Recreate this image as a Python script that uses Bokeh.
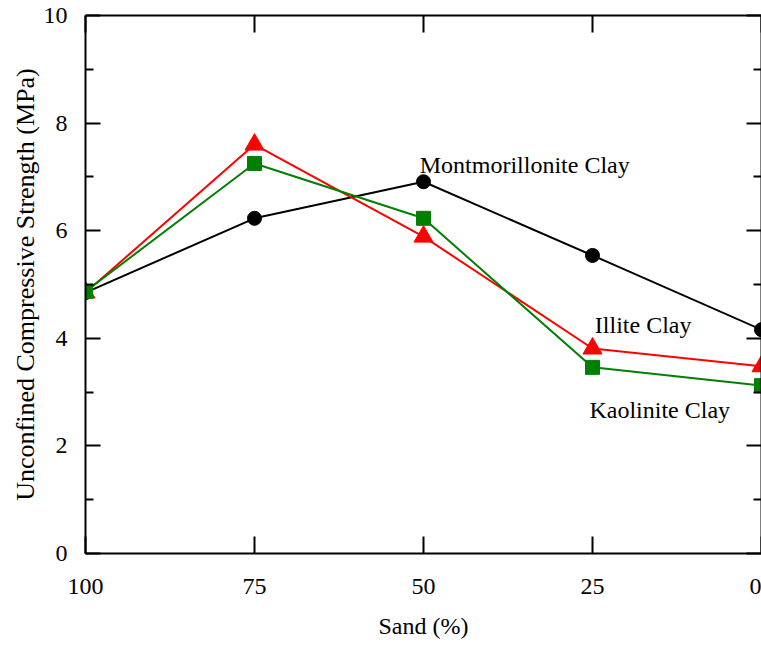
from bokeh.plotting import figure
from bokeh.models import Range1d, LinearAxis, FixedTicker, ColumnDataSource
from bokeh.core.properties import value
from bokeh.embed import file_html
from bokeh.resources import INLINE

# ---- data ----
sand = [100, 75, 50, 25, 0]
montmorillonite = [4.85, 6.23, 6.91, 5.54, 4.16]
illite = [4.85, 7.60, 5.89, 3.81, 3.48]
kaolinite = [4.87, 7.25, 6.23, 3.46, 3.12]

x_ticks = [0, 25, 50, 75, 100]
y_ticks = [0, 2, 4, 6, 8, 10]
y_minor = [1, 3, 5, 7, 9]

label_text = ["Montmorillonite Clay", "Illite Clay", "Kaolinite Clay"]
label_x = [50.55, 24.65, 25.45]
label_y = [7.23, 4.24, 2.66]

x_title = "Sand (%)"
y_title = "Unconfined Compressive Strength (MPa)"

FONT = "Liberation Serif"
H = 645

p = figure(width=761, height=H, output_backend="svg", toolbar_location=None,
           x_range=Range1d(100, 0), y_range=Range1d(0, 10),
           min_border_left=85, min_border_top=15, min_border_right=0, min_border_bottom=92,
           x_axis_label=x_title, y_axis_label=y_title)
p.grid.visible = False
p.outline_line_color = None
p.background_fill_color = "white"
p.border_fill_color = "white"


def style(ax, ticker, in_len, minor_len):
    ax.ticker = ticker
    ax.axis_line_width = 2
    ax.axis_line_color = "black"
    ax.major_tick_line_width = 2
    ax.minor_tick_line_width = 2
    ax.major_tick_in = in_len
    ax.major_tick_out = 0
    ax.minor_tick_in = minor_len
    ax.minor_tick_out = 0
    ax.major_label_text_font = FONT
    ax.major_label_text_font_size = "24px"
    ax.major_label_text_color = "black"
    ax.axis_label_text_font = FONT
    ax.axis_label_text_font_size = "24px"
    ax.axis_label_text_font_style = "normal"
    ax.axis_label_text_color = "black"


style(p.xaxis[0], FixedTicker(ticks=x_ticks, minor_ticks=[]), 17, 0)
style(p.yaxis[0], FixedTicker(ticks=y_ticks, minor_ticks=y_minor), 15, 8)
p.xaxis[0].major_label_standoff = 25
p.xaxis[0].axis_label_standoff = 16
p.yaxis[0].major_label_standoff = 18
p.yaxis[0].axis_label_standoff = 1
p.yaxis[0].axis_label_text_font_size = "26px"

top = LinearAxis()
style(top, FixedTicker(ticks=x_ticks, minor_ticks=[]), 17, 0)
top.major_label_overrides = {t: "" for t in x_ticks}
top.major_label_text_font_size = "1px"
top.major_label_standoff = 0
top.axis_label_standoff = 0
p.add_layout(top, "above")

right = LinearAxis()
style(right, FixedTicker(ticks=y_ticks, minor_ticks=y_minor), 15, 8)
right.major_label_overrides = {t: "" for t in y_ticks}
right.major_label_text_font_size = "1px"
right.major_label_standoff = 0
right.axis_label_standoff = 0
p.add_layout(right, "right")

src = ColumnDataSource(dict(sand=sand, m=montmorillonite, i=illite, k=kaolinite))

p.line("sand", "m", source=src, line_color="black", line_width=2)
p.scatter("sand", "m", source=src, marker="circle", size=14, fill_color="black", line_color="black")
p.line("sand", "i", source=src, line_color="red", line_width=2)
p.scatter("sand", "i", source=src, marker="triangle", size=19, fill_color="red", line_color="red")
p.line("sand", "k", source=src, line_color="green", line_width=2)
p.scatter("sand", "k", source=src, marker="square", size=14, fill_color="green", line_color="green")

lab = ColumnDataSource(dict(x=label_x, y=label_y, t=label_text))
p.text("x", "y", text="t", source=lab, text_font=value(FONT), text_font_size="24px",
       text_color="black", text_align="left", text_baseline="alphabetic")

open("out.html", "w").write(file_html(p, INLINE))
